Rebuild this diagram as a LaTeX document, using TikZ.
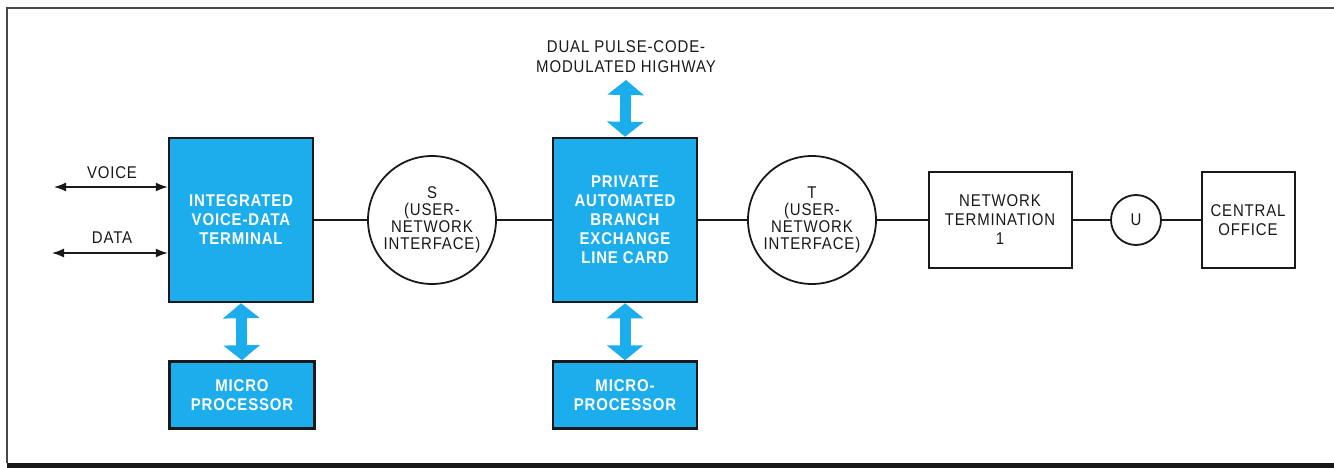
\documentclass[tikz,border=0pt]{standalone}
\usepackage{fontspec}
\setmainfont[FakeStretch=0.88,LetterSpace=5]{Liberation Sans}
\usetikzlibrary{arrows.meta}
\definecolor{cy}{RGB}{28,174,236}
\definecolor{ink}{RGB}{25,25,25}
\begin{document}
\begin{tikzpicture}[x=1pt,y=-1pt,
  bluebox/.style={draw=ink,line width=2.5pt,fill=cy,text=white,
    font=\fontsize{17}{19}\selectfont\bfseries,align=center,inner sep=0pt},
  whitebox/.style={draw=ink,line width=2pt,fill=white,text=ink,
    font=\fontsize{17}{19}\selectfont,align=center,inner sep=0pt},
  ring/.style={draw=ink,line width=1.8pt,circle,fill=white,text=ink,
    font=\fontsize{17}{17}\selectfont,align=center,inner sep=0pt},
  lbl/.style={text=ink,font=\fontsize{17}{20}\selectfont,align=center,inner sep=0pt},
  link/.style={draw=ink,line width=1.3pt},
  bus/.style={draw=cy,line width=11pt,
    arrows={Triangle[length=15pt,width=36pt]-Triangle[length=15pt,width=36pt]}},
  sig/.style={draw=ink,line width=1.3pt,
    arrows={Latex[length=12pt,width=9pt]-Latex[length=12pt,width=9pt]}}
]
\useasboundingbox (0,0) rectangle (1334,468);
% frame
\draw[ink!80,line width=1.5pt] (1334,8) -- (7,8) -- (7,463);
\draw[ink,line width=5pt] (7,465) -- (1334,465);

% nodes
\node[bluebox,minimum width=144pt,minimum height=164pt] (ivdt) at (241,220)
  {INTEGRATED\\VOICE-DATA\\TERMINAL};
\node[bluebox,minimum width=145pt,minimum height=67pt] (mp1) at (242,395)
  {MICRO\\PROCESSOR};
\node[ring,minimum size=128pt] (s) at (432,220)
  {S\\(USER-\\NETWORK\\INTERFACE)};
\node[bluebox,minimum width=144pt,minimum height=164pt] (pabx) at (625,220)
  {PRIVATE\\AUTOMATED\\BRANCH\\EXCHANGE\\LINE CARD};
\node[bluebox,minimum width=144pt,minimum height=67pt] (mp2) at (625,395)
  {MICRO-\\PROCESSOR};
\node[lbl] (dpcm) at (626,57) {DUAL PULSE-CODE-\\MODULATED HIGHWAY};
\node[ring,minimum size=128pt] (t) at (812,220)
  {T\\(USER-\\NETWORK\\INTERFACE)};
\node[whitebox,minimum width=143pt,minimum height=95pt] (nt1) at (1000,220)
  {NETWORK\\TERMINATION\\1};
\node[ring,minimum size=50pt] (u) at (1136,220) {U};
\node[whitebox,minimum width=93pt,minimum height=95pt] (co) at (1248,220)
  {CENTRAL\\OFFICE};

\node[lbl] (voice) at (112,173) {VOICE};
\node[lbl] (data) at (112,238) {DATA};
\coordinate (vend) at (54,187);
\coordinate (dend) at (52,253);
\coordinate (hwy) at (626,80);

% connectors
\draw[link] (ivdt.east) -- (s.west);
\draw[link] (s.east) -- (pabx.west);
\draw[link] (pabx.east) -- (t.west);
\draw[link] (t.east) -- (nt1.west);
\draw[link] (nt1.east) -- (u.west);
\draw[link] (u.east) -- (co.west);

\draw[sig] (vend) -- (vend -| ivdt.west);
\draw[sig] (dend) -- (dend -| ivdt.west);

\draw[bus] (ivdt.south) -- (mp1.north);
\draw[bus] (pabx.south) -- (mp2.north);
\draw[bus] (hwy) -- (pabx.north);
\end{tikzpicture}
\end{document}
